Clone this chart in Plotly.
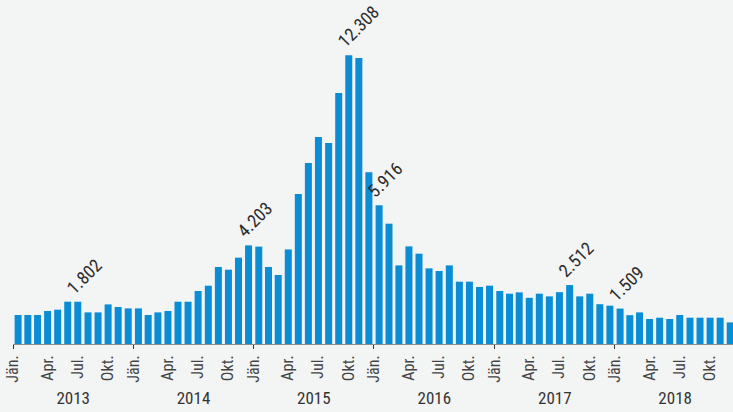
import pandas as pd
import plotly.graph_objects as go

# monthly values, one list per year
years = [2013, 2014, 2015, 2016, 2017, 2018]
v2013 = [1236, 1236, 1236, 1407, 1462, 1803, 1802, 1347, 1347, 1688, 1577, 1517]
v2014 = [1517, 1236, 1347, 1407, 1802, 1802, 2259, 2485, 3282, 3167, 3679, 4203]
v2015 = [4150, 3282, 2941, 4030, 6390, 7715, 8824, 8568, 10699, 12308, 12191, 7315]
v2016 = [5916, 5128, 3350, 4160, 3849, 3223, 3112, 3350, 2656, 2656, 2430, 2485]
v2017 = [2259, 2144, 2200, 1968, 2144, 2029, 2208, 2512, 2029, 2144, 1696, 1633]
v2018 = [1509, 1228, 1347, 1066, 1121, 1066, 1236, 1121, 1121, 1121, 1121, 921]

month_names = ["Jän.", "Apr.", "Jul.", "Okt."]
labelled = ["2013-07", "2014-12", "2015-10", "2016-01", "2017-08", "2018-01"]

values = v2013 + v2014 + v2015 + v2016 + v2017 + v2018
months = pd.date_range(f"{years[0]}-01-01", periods=len(values), freq="MS")

FONT = "Roboto Condensed, Liberation Sans Narrow, DejaVu Sans Condensed, Roboto, sans-serif"
BLUE = "#0a8dd5"
BG = "#f3f4f4"

fig = go.Figure()
fig.add_trace(go.Bar(x=months, y=values, xperiod="M1", xperiodalignment="middle",
                     marker=dict(color=BLUE, line=dict(width=0)), hoverinfo="skip"))
# invisible trace so the year axis is drawn
fig.add_trace(go.Scatter(x=months, y=[None] * len(months), xaxis="x2", mode="none",
                         hoverinfo="skip", showlegend=False))

# month labels: Jän. on the year boundary, the others in the middle of the month
tickvals, ticktext = [], []
for y in years:
    tickvals += [f"{y}-01-01", f"{y}-04-16", f"{y}-07-16", f"{y}-10-16"]
    ticktext += month_names

for m in labelled:
    i = list(months.strftime("%Y-%m")).index(m)
    v = values[i]
    fig.add_annotation(x=months[i] + pd.Timedelta(days=15), y=v, text=f"{v:,}".replace(",", "."),
                       showarrow=False, textangle=-45, xanchor="left", yanchor="bottom",
                       xshift=-18, yshift=1, font=dict(family=FONT, size=18, color="#2b2b2b"))

xrange = [f"{years[0]}-01-01", f"{years[-1]}-12-25"]
fig.update_layout(
    width=733, height=412,
    margin=dict(l=13, r=0, t=0, b=68),
    paper_bgcolor=BG, plot_bgcolor=BG,
    showlegend=False, bargap=0.28,
    font=dict(family=FONT, color="#333333"),
    xaxis=dict(type="date", range=xrange, tickmode="array", tickvals=tickvals, ticktext=ticktext,
               tickangle=-90, ticks="", showgrid=False, zeroline=False,
               showline=True, linecolor="#8c8c8c", linewidth=1,
               tickfont=dict(size=16, color="#444444"), ticklabelstandoff=4),
    xaxis2=dict(type="date", overlaying="x", matches="x", anchor="y", side="bottom",
                tick0=f"{years[0]}-01-01", dtick="M12", tickformat="%Y", ticklabelmode="period",
                ticks="outside", ticklen=4, tickwidth=1, tickcolor="#333333",
                showgrid=False, zeroline=False, showline=False,
                tickfont=dict(size=17, color="#333333"), ticklabelstandoff=35),
    yaxis=dict(range=[0, 14660], visible=False, fixedrange=True),
)

# drop the default page margin so the figure sits at the window's corner
fig.write_html("out.html", config={"displayModeBar": False},
               post_script="document.body.style.margin='0px';")
